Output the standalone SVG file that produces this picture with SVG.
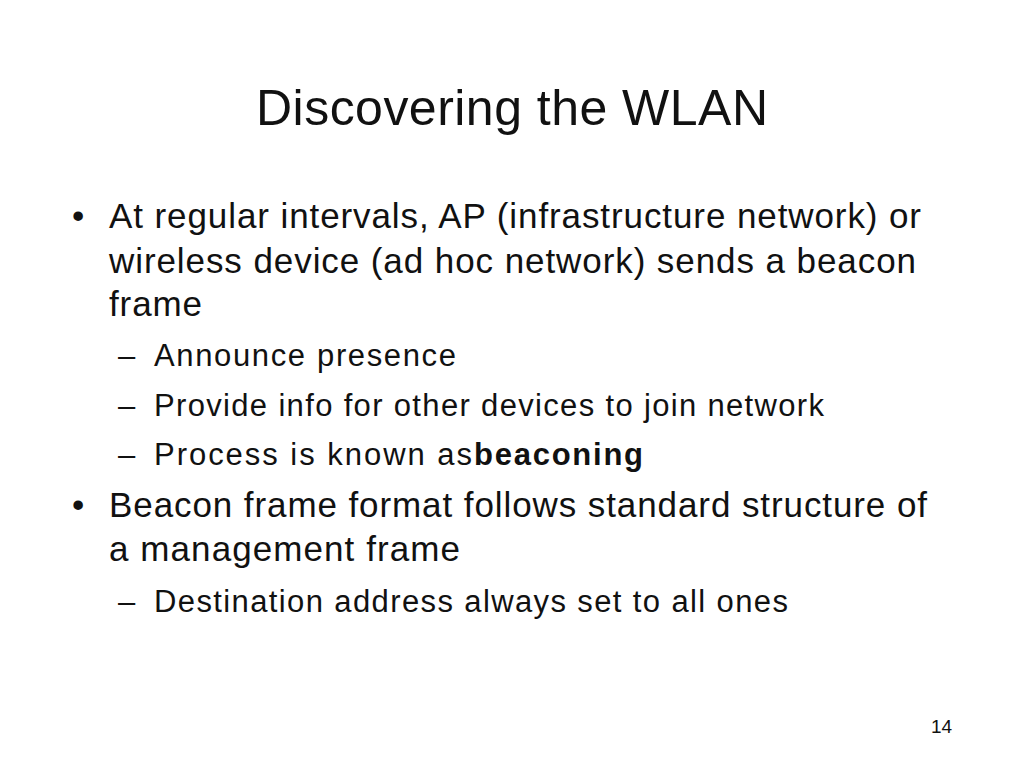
<svg xmlns="http://www.w3.org/2000/svg" width="1024" height="768" viewBox="0 0 1024 768">
<style>
text{font-family:"Liberation Sans",Arial,sans-serif;fill:#111}
.t{font-size:50px}
.b{font-size:35px}
.s{font-size:31px}
</style>
<rect width="1024" height="768" fill="#fff"/>
<text class="t" x="256" y="125" textLength="512">Discovering the WLAN</text>
<text class="b" x="72" y="228">•</text>
<text class="b" x="109" y="228" textLength="812">At regular intervals, AP (infrastructure network) or</text>
<text class="b" x="109" y="273" textLength="807">wireless device (ad hoc network) sends a beacon</text>
<text class="b" x="109" y="316" textLength="93">frame</text>
<text class="s" x="118" y="366">–</text>
<text class="s" x="154" y="366" textLength="302">Announce presence</text>
<text class="s" x="118" y="416">–</text>
<text class="s" x="154" y="416" textLength="670">Provide info for other devices to join network</text>
<text class="s" x="118" y="465">–</text>
<text class="s" x="154" y="465" textLength="318">Process is known as</text>
<text class="s" x="474" y="465" font-weight="bold" textLength="169">beaconing</text>
<text class="b" x="72" y="517">•</text>
<text class="b" x="109" y="517" textLength="818">Beacon frame format follows standard structure of</text>
<text class="b" x="109" y="561" textLength="351">a management frame</text>
<text class="s" x="118" y="612">–</text>
<text class="s" x="154" y="612" textLength="634">Destination address always set to all ones</text>
<text x="931" y="733" font-size="19">14</text>
</svg>
